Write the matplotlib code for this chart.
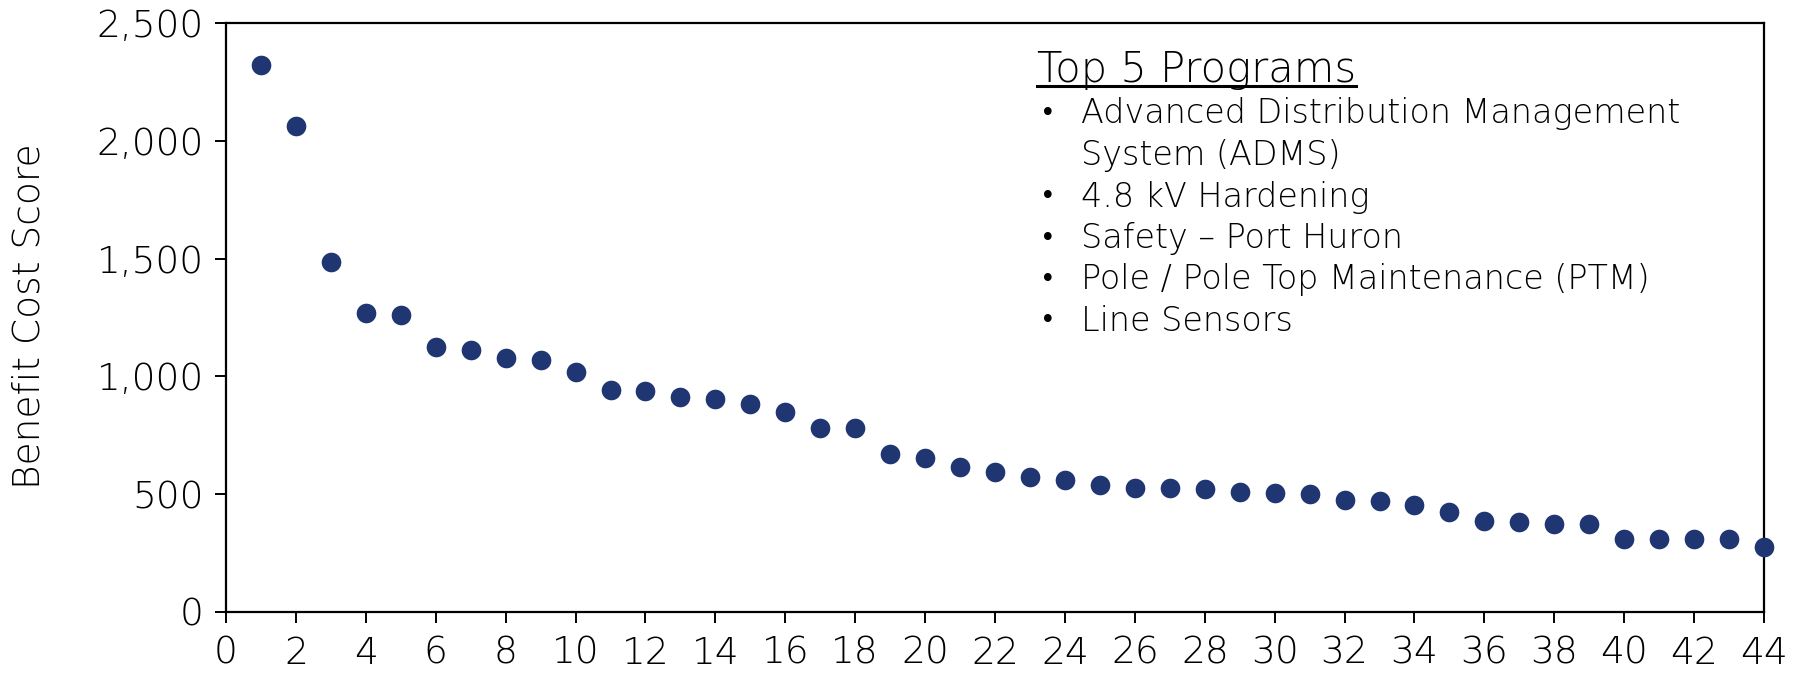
import matplotlib
matplotlib.use("Agg")
import matplotlib.pyplot as plt
from matplotlib.ticker import FuncFormatter, MultipleLocator
from matplotlib.lines import Line2D

# benefit cost score per program, ranked
ranks = list(range(1, 45))
scores = [2322, 2061, 1484, 1270, 1260, 1124, 1113, 1079, 1071, 1017,
          941, 938, 914, 905, 884, 847, 783, 783, 669, 654,
          616, 595, 572, 559, 538, 528, 525, 520, 510, 504,
          499, 477, 470, 456, 424, 386, 380, 374, 372, 309,
          309, 308, 308, 274]

top_title = "Top 5 Programs"
top_programs = [
    ["Advanced Distribution Management", "System (ADMS)"],
    ["4.8 kV Hardening"],
    ["Safety \u2013 Port Huron"],
    ["Pole / Pole Top Maintenance (PTM)"],
    ["Line Sensors"],
]

DOT = "#1f3673"
FS = 24
TICK_FS = 27


def main():
    plt.rcParams["font.family"] = ["DejaVu Sans"]
    plt.rcParams["font.weight"] = "light"

    W, H = 1800, 679
    fig = plt.figure(figsize=(W / 100, H / 100), dpi=100)
    ax = fig.add_axes([226 / W, 1 - 612 / H, 1538 / W, 589 / H])

    ax.scatter(ranks, scores, s=200, color=DOT, clip_on=False, zorder=3,
               linewidths=0)

    ax.set_xlim(0, 44)
    ax.set_ylim(0, 2500)
    ax.xaxis.set_major_locator(MultipleLocator(2))
    ax.yaxis.set_major_locator(MultipleLocator(500))
    ax.yaxis.set_major_formatter(FuncFormatter(lambda v, p: f"{int(v):,}"))

    for sp in ax.spines.values():
        sp.set_linewidth(1.6)
        sp.set_color("black")
    ax.tick_params(axis="both", direction="out", length=8, width=1.4,
                   labelsize=TICK_FS, colors="black")
    ax.tick_params(axis="x", pad=9)
    ax.tick_params(axis="y", pad=8)

    # y axis title, centred at the left edge
    fig.text(29 / W, 1 - 316 / H, "Benefit Cost Score", fontsize=27,
             rotation=90, ha="center", va="center")

    # text block listing the top programs
    t = fig.text(1037 / W, 1 - 70 / H, top_title, fontsize=30,
                 va="center", ha="left")
    y = 114
    for prog in top_programs:
        fig.text(1040 / W, 1 - y / H, "\u2022", fontsize=19, weight="normal",
                 va="center", ha="left")
        for line in prog:
            fig.text(1081 / W, 1 - y / H, line, fontsize=FS,
                     va="center", ha="left")
            y += 41.5

    # underline under the title
    fig.canvas.draw()
    bb = t.get_window_extent()
    uy = 1 - 86 / H
    fig.add_artist(Line2D([bb.x0 / W, bb.x1 / W], [uy, uy], color="black",
                          linewidth=2.2, transform=fig.transFigure))

    fig.savefig("out.png", dpi=100)


if __name__ == "__main__":
    main()
